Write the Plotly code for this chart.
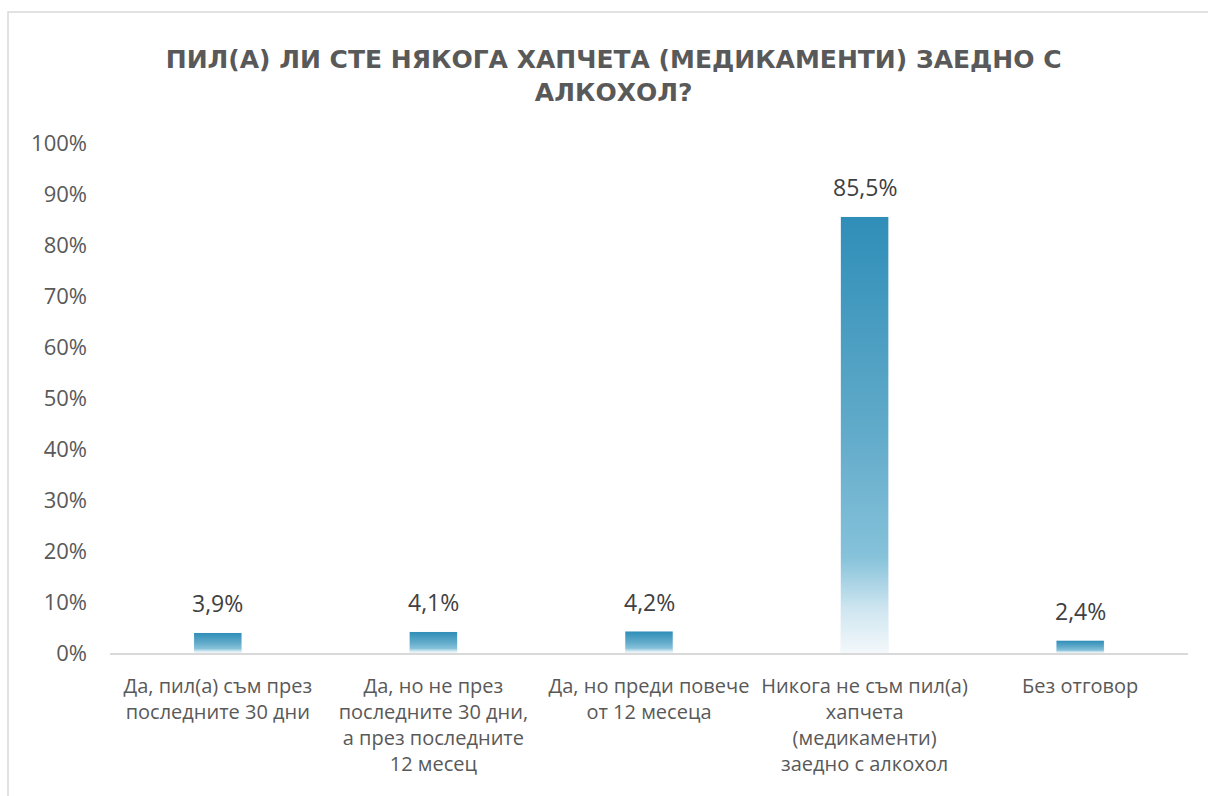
import plotly.graph_objects as go

categories = [
    "Да, пил(а) съм през<br>последните 30 дни",
    "Да, но не през<br>последните 30 дни,<br>а през последните<br>12 месец",
    "Да, но преди повече<br>от 12 месеца",
    "Никога не съм пил(а)<br>хапчета<br>(медикаменти)<br>заедно с алкохол",
    "Без отговор",
]
values = [3.9, 4.1, 4.2, 85.5, 2.4]
y_ticks = [0, 10, 20, 30, 40, 50, 60, 70, 80, 90, 100]
y_tick_labels = [f"{v}%" for v in y_ticks]

title_text = "ПИЛ(А) ЛИ СТЕ НЯКОГА ХАПЧЕТА (МЕДИКАМЕНТИ) ЗАЕДНО С<br>АЛКОХОЛ?"

W, H = 1208, 796
L, R, T, B = 110, 20, 143, 143
bar_w = 0.22
grad = [[0.0, "#f3f8fb"], [0.1, "#cfe6f0"], [0.22, "#86c2da"],
        [0.5, "#62abca"], [1.0, "#2f8eb8"]]

fig = go.Figure()
xs = list(range(len(categories)))

# gradient-filled bars (one per category, gradient relative to each bar)
for i, v in zip(xs, values):
    fig.add_trace(go.Scatter(
        x=[i - bar_w / 2, i + bar_w / 2, i + bar_w / 2, i - bar_w / 2, i - bar_w / 2],
        y=[0, 0, v, v, 0],
        mode="lines", line=dict(width=0), fill="toself",
        fillgradient=dict(type="vertical", colorscale=grad),
        hoverinfo="skip", showlegend=False,
    ))

# bar trace carrying the values (transparent, for hover)
fig.add_trace(go.Bar(
    x=xs, y=values, width=bar_w,
    marker=dict(color="rgba(0,0,0,0)"),
    hovertemplate="%{y:.1f}%<extra></extra>",
    showlegend=False,
))

# data labels
for i, v in zip(xs, values):
    fig.add_annotation(
        x=i, y=v, xref="x", yref="y", text=f"{v:.1f}%".replace(".", ","),
        showarrow=False, yanchor="bottom", yshift=12,
        font=dict(family="Open Sans", size=23, color="#404040"),
    )

plot_w = W - L - R
plot_h = H - T - B
fig.add_shape(type="rect", xref="paper", yref="paper",
              x0=(8 - L) / plot_w, x1=1.2,
              y0=-0.5, y1=(H - B - 12) / plot_h,
              line=dict(color="#d9d9d9", width=1.5), layer="below")

fig.update_layout(
    width=W, height=H,
    margin=dict(l=L, r=R, t=T, b=B, autoexpand=False),
    paper_bgcolor="white", plot_bgcolor="white",
    separators=",.",
    title=dict(text=title_text, x=0.508, xanchor="center",
               y=1 - 68 / H, yanchor="middle",
               font=dict(family="DejaVu Sans", size=25, color="#595959", weight="bold")),
    xaxis=dict(range=[-0.5, 4.5], tickvals=xs, ticktext=categories,
               showgrid=False, zeroline=False, showline=True, linecolor="#d9d9d9",
               linewidth=1.5, ticks="", tickangle=0, ticklabelstandoff=14,
               tickfont=dict(family="Open Sans", size=20, color="#595959")),
    yaxis=dict(range=[0, 100], tickvals=y_ticks, ticktext=y_tick_labels,
               showgrid=False, zeroline=False, showline=False, ticks="",
               ticklabelstandoff=22,
               tickfont=dict(family="Open Sans", size=22, color="#595959")),
    bargap=0.78,
)

fig.write_html("out.html", config={"displayModeBar": False},
               post_script="document.body.style.margin='0';")
